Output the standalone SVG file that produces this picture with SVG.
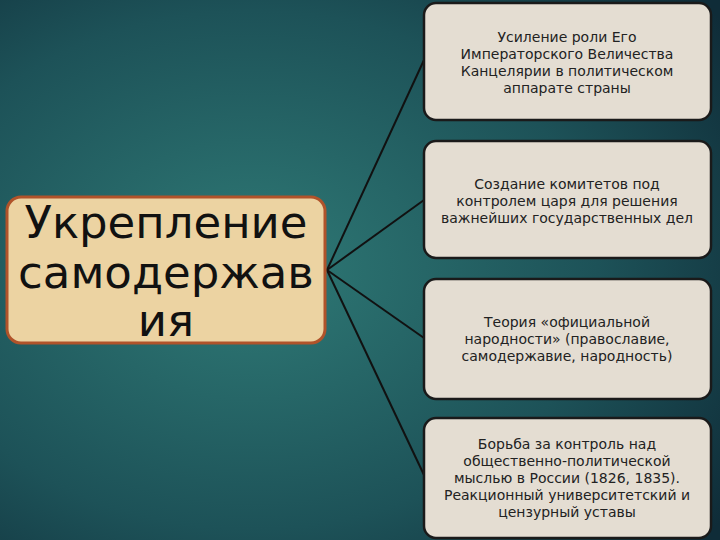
<svg xmlns="http://www.w3.org/2000/svg" width="720" height="540" viewBox="0 0 720 540">
<defs>
<radialGradient id="bg" cx="0.35" cy="0.5" r="0.8">
<stop offset="0" stop-color="#2f7a76"/>
<stop offset="0.6" stop-color="#1d5258"/>
<stop offset="1" stop-color="#0f2c38"/>
</radialGradient>
<style>
.box{fill:#e4ddd2;stroke:#1a1a1a;stroke-width:2.5}
.t{font-family:"DejaVu Sans","Liberation Sans",sans-serif;font-size:14px;fill:#222;text-anchor:middle}
.c{stroke:#111;stroke-width:2;fill:none}
</style>
</defs>
<rect width="720" height="540" fill="url(#bg)"/>
<g id="connectors">
<line class="c" x1="327" y1="270" x2="424" y2="60"/>
<line class="c" x1="327" y1="270" x2="424" y2="200"/>
<line class="c" x1="327" y1="270" x2="424" y2="338"/>
<line class="c" x1="327" y1="270" x2="424" y2="475"/>
</g>
<g id="main">
<rect x="7" y="197" width="318" height="146" rx="14" fill="#ecd3a2" stroke="#b0532a" stroke-width="3"/>
<text font-family="DejaVu Sans,sans-serif" font-size="45" fill="#111" text-anchor="middle"><tspan x="166" y="238">Укрепление</tspan><tspan x="166" y="288">самодержав</tspan><tspan x="166" y="336">ия</tspan></text>
</g>
<g id="n1">
<rect class="box" x="424" y="3" width="287" height="117" rx="12"/>
<text class="t"><tspan x="567" y="42">Усиление роли Его</tspan><tspan x="567" y="59">Императорского Величества</tspan><tspan x="567" y="76">Канцелярии в политическом</tspan><tspan x="567" y="93">аппарате страны</tspan></text>
</g>
<g id="n2">
<rect class="box" x="424" y="141" width="287" height="117" rx="12"/>
<text class="t"><tspan x="567" y="189">Создание комитетов под</tspan><tspan x="567" y="206">контролем царя для решения</tspan><tspan x="567" y="223">важнейших государственных дел</tspan></text>
</g>
<g id="n3">
<rect class="box" x="424" y="279" width="287" height="120" rx="12"/>
<text class="t"><tspan x="567" y="327">Теория «официальной</tspan><tspan x="567" y="344">народности» (православие,</tspan><tspan x="567" y="361">самодержавие, народность)</tspan></text>
</g>
<g id="n4">
<rect class="box" x="424" y="418" width="287" height="120" rx="12"/>
<text class="t"><tspan x="567" y="449">Борьба за контроль над</tspan><tspan x="567" y="466">общественно-политической</tspan><tspan x="567" y="483">мыслью в России (1826, 1835).</tspan><tspan x="567" y="500">Реакционный университетский и</tspan><tspan x="567" y="517">цензурный уставы</tspan></text>
</g>
</svg>
